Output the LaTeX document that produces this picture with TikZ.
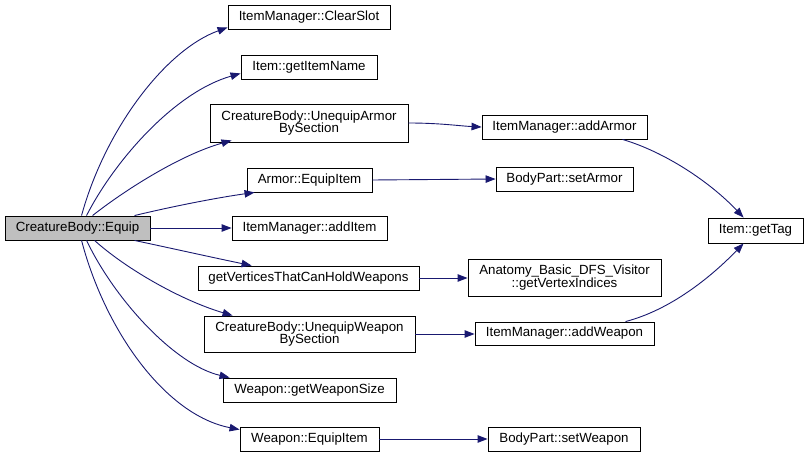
\documentclass[tikz,border=0pt]{standalone}
\usepackage{fontspec}
\setmainfont{Liberation Sans}
\usetikzlibrary{arrows.meta,calc}
\definecolor{edgeblue}{HTML}{191970}
\definecolor{rootgray}{HTML}{BFBFBF}
\begin{document}
\begin{tikzpicture}[x=1pt,y=-1pt,
  box/.style={draw=black,line width=0.9pt,fill=white,inner sep=0pt,align=center,
    font=\fontsize{13.3}{12.5}\selectfont},
  call/.style={draw=edgeblue,line width=0.9pt,-{Triangle[length=10pt,width=7.5pt]},fill=none},
]
\useasboundingbox (0,0) rectangle (809,457);
\tikzset{bx/.code args={#1,#2,#3,#4}{\pgfkeysalso{minimum width={(#3)-(#1)},minimum height={(#4)-(#2)}}}}
% nodes: corners in pixels
\newcommand{\mybox}[6][]{\node[box,#1,minimum width=#4-#2,minimum height=#5-#3] (#6) at ({(#2+#4)/2},{(#3+#5)/2})}
\mybox[fill=rootgray]{5}{216}{150}{240}{eq} {CreatureBody::Equip};
\mybox{228}{5}{390}{29}{cs} {ItemManager::ClearSlot};
\mybox{241}{55}{377}{79}{gin} {Item::getItemName};
\mybox{210}{104}{408}{142}{ua} {CreatureBody::UnequipArmor\\BySection};
\mybox{247}{168}{372}{192}{ae} {Armor::EquipItem};
\mybox{232}{216}{387}{240}{ai} {ItemManager::addItem};
\mybox{198}{266}{419}{290}{gv} {getVerticesThatCanHoldWeapons};
\mybox{204}{316}{415}{352}{uw} {CreatureBody::UnequipWeapon\\BySection};
\mybox{223}{378}{396}{402}{ws} {Weapon::getWeaponSize};
\mybox{240}{427}{379}{451}{we} {Weapon::EquipItem};
\mybox{482}{115}{647}{139}{aa} {ItemManager::addArmor};
\mybox{496}{167}{633}{191}{sa} {BodyPart::setArmor};
\mybox{708}{218}{803}{243}{gt} {Item::getTag};
\mybox{468}{259}{661}{296}{ad} {Anatomy\_Basic\_DFS\_Visitor\\::getVertexIndices};
\mybox{475}{322}{654}{345}{aw} {ItemManager::addWeapon};
\mybox{488}{427}{640}{451}{sw} {BodyPart::setWeapon};
% connectors from root
\draw[call] ($(eq.north west)+(77,0)$) .. controls (105,130) and (165,50) .. ($(cs.south west)+(0,-2)$);
\draw[call] ($(eq.north west)+(82,0)$) .. controls (115,160) and (175,92) .. ($(gin.south west)+(0,-6)$);
\draw[call] ($(eq.north west)+(88,0)$) .. controls (125,190) and (180,155) .. ($(ua.south west)+(22,-2)$);
\draw[call] ($(eq.north west)+(130,0)$) .. controls (170,207) and (215,198) .. ($(ae.south west)+(8,0)$);
\draw[call] (eq.east) -- (ai.west);
\draw[call] ($(eq.south west)+(130,0)$) .. controls (170,248) and (215,258) .. ($(gv.north west)+(54,0)$);
\draw[call] ($(eq.south west)+(90,0)$) .. controls (125,268) and (180,300) .. ($(uw.north west)+(29,0)$);
\draw[call] ($(eq.south west)+(82,0)$) .. controls (115,300) and (175,365) .. ($(ws.north west)+(7,0)$);
\draw[call] ($(eq.south west)+(77,0)$) .. controls (105,330) and (165,415) .. ($(we.north west)+(0,3)$);
% second level
\draw[call] (ua.east) .. controls (440,123) and (460,126) .. ($(aa.west)+(0,0)$);
\draw[call] (ae.east) -- (sa.west);
\draw[call] (gv.east) -- (gv.east -| ad.west);
\draw[call] (uw.east) -- (uw.east -| aw.west);
\draw[call] (we.east) -- (sw.west);
% third level
\draw[call] ($(aa.south west)+(141,0)$) .. controls (665,152) and (710,182) .. ($(gt.north west)+(36,0)$);
\draw[call] ($(aw.north west)+(151,0)$) .. controls (670,310) and (710,278) .. ($(gt.south west)+(36,0)$);
\end{tikzpicture}
\end{document}
